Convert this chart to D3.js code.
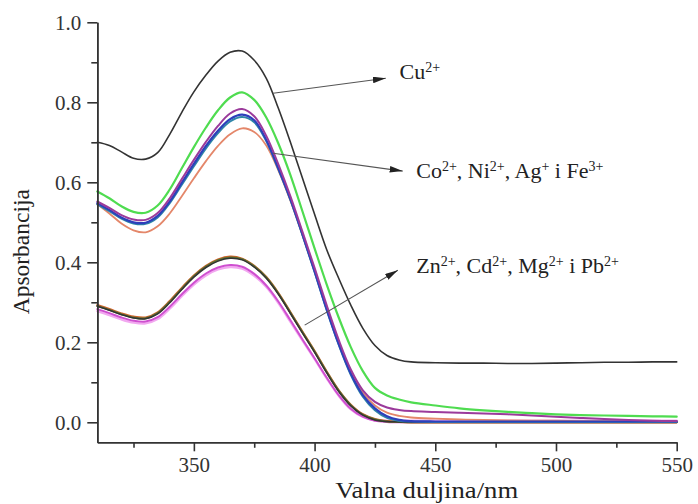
<!DOCTYPE html>
<html><head><meta charset="utf-8">
<script src="https://cdn.jsdelivr.net/npm/d3@7"></script>
<style>
html,body{margin:0;padding:0;background:#fff;}
svg{display:block;}
svg text{font-family:"Liberation Serif","Times New Roman",Times,Tinos,"DejaVu Serif",serif !important;}
</style></head>
<body><svg id="c" width="698" height="504"></svg>
<script>
// ---------- data ----------
const wavelengths = [310,315,320,325,330,335,340,345,350,355,360,365,370,375,380,385,390,395,400,405,410,415,420,425,430,435,440,450,460,470,480,490,500,510,520,530,540,550];

const cu      = [0.700,0.692,0.676,0.660,0.658,0.674,0.720,0.775,0.826,0.868,0.903,0.925,0.928,0.905,0.860,0.785,0.700,0.610,0.520,0.432,0.360,0.293,0.235,0.192,0.167,0.156,0.151,0.149,0.148,0.148,0.147,0.147,0.148,0.149,0.150,0.150,0.151,0.151];

const green   = [0.577,0.560,0.540,0.526,0.524,0.542,0.582,0.635,0.688,0.737,0.780,0.812,0.825,0.806,0.762,0.697,0.618,0.527,0.435,0.345,0.262,0.188,0.128,0.086,0.067,0.057,0.050,0.042,0.035,0.030,0.026,0.023,0.020,0.018,0.017,0.016,0.015,0.014];
const purple  = [0.552,0.536,0.518,0.507,0.506,0.523,0.560,0.608,0.656,0.701,0.741,0.772,0.783,0.765,0.716,0.645,0.565,0.476,0.386,0.293,0.206,0.132,0.080,0.051,0.037,0.031,0.028,0.026,0.024,0.022,0.020,0.017,0.014,0.011,0.008,0.006,0.004,0.003];
const blue    = [0.548,0.531,0.512,0.500,0.499,0.516,0.552,0.599,0.646,0.691,0.729,0.758,0.769,0.755,0.706,0.635,0.558,0.470,0.378,0.283,0.196,0.122,0.068,0.035,0.015,0.006,0.003,0.002,0.002,0.002,0.002,0.002,0.002,0.002,0.002,0.002,0.002,0.002];
const teal    = [0.545,0.528,0.509,0.497,0.496,0.512,0.548,0.594,0.640,0.685,0.723,0.752,0.763,0.750,0.703,0.633,0.556,0.468,0.376,0.281,0.194,0.119,0.064,0.030,0.011,0.004,0.002,0.001,0.001,0.001,0.001,0.001,0.001,0.001,0.001,0.001,0.001,0.001];
const salmon  = [0.545,0.522,0.497,0.480,0.475,0.490,0.522,0.565,0.610,0.653,0.691,0.720,0.735,0.726,0.692,0.630,0.554,0.468,0.378,0.286,0.200,0.126,0.074,0.042,0.024,0.016,0.012,0.009,0.007,0.006,0.005,0.004,0.004,0.003,0.003,0.003,0.003,0.003];

const orange  = [0.293,0.283,0.272,0.264,0.262,0.275,0.303,0.336,0.367,0.391,0.407,0.414,0.409,0.391,0.363,0.323,0.275,0.226,0.178,0.127,0.080,0.044,0.020,0.008,0.003,0.001,0.000,0.000,0.000,0.000,0.000,0.000,0.000,0.000,0.000,0.000,0.000,0.000];
const olive   = [0.291,0.281,0.270,0.262,0.260,0.273,0.301,0.334,0.365,0.389,0.405,0.412,0.408,0.390,0.362,0.322,0.274,0.225,0.177,0.126,0.079,0.043,0.019,0.007,0.002,0.001,0.000,0.000,0.000,0.000,0.000,0.000,0.000,0.000,0.000,0.000,0.000,0.000];
const darkLow = [0.290,0.280,0.269,0.261,0.259,0.271,0.299,0.332,0.363,0.387,0.403,0.410,0.406,0.388,0.360,0.320,0.272,0.223,0.175,0.124,0.077,0.041,0.018,0.006,0.002,0.001,0.000,0.000,0.000,0.000,0.000,0.000,0.000,0.000,0.000,0.000,0.000,0.000];
const magenta = [0.283,0.273,0.262,0.254,0.252,0.263,0.289,0.320,0.349,0.372,0.387,0.393,0.389,0.371,0.342,0.302,0.255,0.207,0.160,0.112,0.068,0.034,0.014,0.004,0.001,0.000,0.000,0.000,0.000,0.000,0.000,0.000,0.000,0.000,0.000,0.000,0.000,0.000];
const pink    = [0.278,0.268,0.257,0.249,0.247,0.258,0.284,0.315,0.344,0.367,0.382,0.388,0.384,0.366,0.338,0.298,0.251,0.204,0.158,0.110,0.066,0.032,0.013,0.005,0.004,0.004,0.004,0.004,0.004,0.004,0.004,0.004,0.004,0.004,0.004,0.004,0.004,0.004];

const xMajorTicks = [350,400,450,500,550];
const xMinorTicks = [325,375,425,475,525];
const yMajorTicks = [0.0,0.2,0.4,0.6,0.8,1.0];
const yMinorTicks = [0.1,0.3,0.5,0.7,0.9];

const xTitle = "Valna duljina/nm";
const yTitle = "Apsorbancija";

// labels: [text, superscript?]
const cuLabel  = [["Cu",0],["2+",1]];
const coLabel  = [["Co",0],["2+",1],[", Ni",0],["2+",1],[", Ag",0],["+",1],[" i Fe",0],["3+",1]];
const znLabel  = [["Zn",0],["2+",1],[", Cd",0],["2+",1],[", Mg",0],["2+",1],[" i Pb",0],["2+",1]];

// annotation anchors in data units (nm, absorbance)
const annotations = [
  {label: cuLabel, from:[382.8,0.8225], to:[429.5,0.860], text:[435.2,0.858]},
  {label: coLabel, from:[382.8,0.6725], to:[436.5,0.628], text:[442.1,0.611]},
  {label: znLabel, from:[395.9,0.243],  to:[434.5,0.380], text:[442.1,0.373]}
];

// ---------- drawing ----------
const series = [
  {v: pink,    c:"#f2a8f0", w:2.2},
  {v: magenta, c:"#cf4fd0", w:2},
  {v: orange,  c:"#d4622c", w:2.2},
  {v: olive,   c:"#5c7430", w:2},
  {v: darkLow, c:"#333333", w:1.5},
  {v: salmon,  c:"#e4876a", w:1.8},
  {v: teal,    c:"#2f86a8", w:2},
  {v: blue,    c:"#2d3fbb", w:2.2},
  {v: purple,  c:"#9b3a9b", w:2},
  {v: green,   c:"#4fdc50", w:2.2},
  {v: cu,      c:"#333333", w:1.6}
];

const svg = d3.select("#c");
const x = d3.scaleLinear().domain([310,550]).range([97.3,676.7]);
const y = d3.scaleLinear().domain([-0.05,1.0]).range([442.3,22.3]);

const line = d3.line().x((d,i)=>x(wavelengths[i])).y(d=>y(d)).curve(d3.curveCatmullRom.alpha(0.5));

svg.append("g").selectAll("path").data(series).join("path")
  .attr("d", d=>line(d.v)).attr("fill","none")
  .attr("stroke", d=>d.c).attr("stroke-width", d=>d.w)
  .attr("stroke-linejoin","round").attr("stroke-linecap","round");

// axes
const axisColor = "#333";
const gx = svg.append("g").attr("transform",`translate(0,${y.range()[0]})`)
  .call(d3.axisBottom(x).tickValues(xMajorTicks).tickSize(9).tickSizeOuter(0).tickPadding(6).tickFormat(d3.format("d")));
const gxm = svg.append("g").attr("transform",`translate(0,${y.range()[0]})`)
  .call(d3.axisBottom(x).tickValues(xMinorTicks).tickSize(5.5).tickSizeOuter(0).tickFormat(""));
const gy = svg.append("g").attr("transform",`translate(${x.range()[0]},0)`)
  .call(d3.axisLeft(y).tickValues(yMajorTicks).tickSize(10).tickSizeOuter(0).tickPadding(6).tickFormat(d3.format(".1f")));
const gym = svg.append("g").attr("transform",`translate(${x.range()[0]},0)`)
  .call(d3.axisLeft(y).tickValues(yMinorTicks).tickSize(6).tickSizeOuter(0).tickFormat(""));

[gx,gxm,gy,gym].forEach(g=>{
  g.attr("font-family",null);
  g.selectAll("path.domain").attr("stroke",axisColor).attr("stroke-width",1.6);
  g.selectAll(".tick line").attr("stroke",axisColor).attr("stroke-width",1.6);
  g.selectAll(".tick text").attr("fill","#333").attr("font-size",21);
});

svg.append("text").attr("x",426.7).attr("y",498).attr("text-anchor","middle")
  .attr("font-size",24).attr("fill","#222")
  .attr("textLength",183).attr("lengthAdjust","spacingAndGlyphs").text(xTitle);
svg.append("text").attr("transform","translate(29,251.7) rotate(-90)").attr("text-anchor","middle")
  .attr("font-size",23.5).attr("fill","#222").text(yTitle);

// arrows
svg.append("defs").append("marker").attr("id","ah")
  .attr("viewBox","0 0 12 6").attr("refX",12).attr("refY",3)
  .attr("markerWidth",13).attr("markerHeight",6.5).attr("markerUnits","userSpaceOnUse")
  .attr("orient","auto")
  .append("path").attr("d","M0,0 L12,3 L0,6 Z").attr("fill","#222");

const ann = svg.append("g");
annotations.forEach(a=>{
  ann.append("line")
    .attr("x1",x(a.from[0])).attr("y1",y(a.from[1]))
    .attr("x2",x(a.to[0])).attr("y2",y(a.to[1]))
    .attr("stroke","#555").attr("stroke-width",1.1).attr("marker-end","url(#ah)");
  const t = ann.append("text").attr("x",x(a.text[0])).attr("y",y(a.text[1]))
    .attr("font-size",22).attr("fill","#222");
  let up = false;
  a.label.forEach(([s,sup])=>{
    const ts = t.append("tspan").text(s);
    if(sup && !up){ ts.attr("dy",-7).attr("font-size",14); up=true; }
    else if(sup){ ts.attr("font-size",14); }
    else if(!sup && up){ ts.attr("dy",7); up=false; }
  });
});
</script></body></html>
